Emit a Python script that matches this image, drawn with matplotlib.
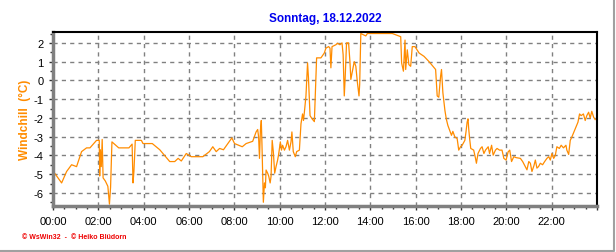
import matplotlib
matplotlib.use("Agg")
import matplotlib.pyplot as plt
from matplotlib.lines import Line2D
from matplotlib.ticker import MultipleLocator, FuncFormatter

# Windchill values (hour of day, °C)
hours = [
    0.00, 0.38, 0.60, 0.82, 1.04, 1.26, 1.48, 1.63, 1.92, 2.04,
    2.06, 2.09, 2.13, 2.17, 2.21, 2.31, 2.42, 2.49, 2.54, 2.60,
    2.90, 3.35, 3.49, 3.53, 3.57, 3.63, 3.90, 3.97, 4.38, 4.71,
    5.15, 5.37, 5.52, 5.66, 5.88, 6.10, 6.61, 6.90, 7.05, 7.20,
    7.35, 7.52, 7.89, 8.01, 8.35, 8.52, 8.81, 8.96, 9.03, 9.07,
    9.11, 9.15, 9.19, 9.22, 9.28, 9.33, 9.37, 9.40, 9.47, 9.52,
    9.58, 9.62, 9.67, 9.72, 9.78, 9.84, 9.91, 9.96, 10.03, 10.08,
    10.13, 10.21, 10.28, 10.35, 10.43, 10.50, 10.54, 10.60, 10.69, 10.75,
    10.87, 10.94, 11.01, 11.05, 11.09, 11.16, 11.23, 11.27, 11.34, 11.43,
    11.53, 11.57, 11.63, 11.82, 11.97, 12.04, 12.16, 12.22, 12.26, 12.31,
    12.48, 12.55, 12.66, 12.75, 12.80, 12.85, 12.89, 12.95, 13.04, 13.10,
    13.14, 13.21, 13.29, 13.36, 13.43, 13.50, 13.53, 13.58, 13.80, 13.87,
    14.97, 15.34, 15.38, 15.46, 15.53, 15.56, 15.63, 15.70, 15.78, 15.85,
    15.97, 16.15, 16.37, 16.59, 16.76, 16.88, 16.95, 17.02, 17.10, 17.14,
    17.20, 17.29, 17.35, 17.42, 17.50, 17.58, 17.64, 17.73, 17.83, 17.90,
    17.98, 18.05, 18.17, 18.22, 18.27, 18.31, 18.34, 18.38, 18.43, 18.56,
    18.64, 18.68, 18.75, 18.86, 18.93, 19.01, 19.08, 19.20, 19.26, 19.35,
    19.42, 19.52, 19.59, 19.70, 19.81, 19.89, 19.99, 20.08, 20.15, 20.23,
    20.33, 20.43, 20.62, 20.72, 20.84, 20.91, 20.99, 21.06, 21.13, 21.22,
    21.28, 21.35, 21.42, 21.50, 21.60, 21.69, 21.79, 21.87, 21.94, 22.01,
    22.09, 22.16, 22.23, 22.34, 22.42, 22.52, 22.63, 22.67, 22.75, 22.82,
    22.89, 23.04, 23.16, 23.23, 23.30, 23.40, 23.48, 23.55, 23.63, 23.70,
    23.77, 23.85, 23.92,
]
windchill = [
    -4.83, -5.47, -4.86, -4.50, -4.60, -3.80, -3.60, -3.60, -3.20, -3.20,
    -5.10, -3.70, -4.60, -3.15, -5.20, -5.37, -5.65, -6.60, -5.70, -3.28,
    -3.60, -3.60, -3.40, -5.47, -4.86, -3.20, -3.20, -3.37, -3.37, -3.70,
    -4.33, -4.33, -4.16, -4.30, -3.90, -4.07, -4.07, -3.80, -3.54, -3.80,
    -3.63, -3.70, -3.07, -3.37, -3.54, -3.37, -3.25, -2.75, -2.62, -3.00,
    -4.16, -2.67, -2.14, -3.46, -6.50, -5.47, -5.73, -4.78, -4.95, -5.12,
    -5.47, -5.12, -3.20, -3.80, -4.95, -4.60, -4.25, -3.90, -3.28, -3.72,
    -3.46, -3.72, -3.54, -3.20, -3.72, -3.28, -2.75, -3.80, -4.07, -3.80,
    -3.72, -2.32, -1.79, -2.14, -1.70, -0.83, 0.93, 0.14, -1.88, -2.05,
    -2.20, -0.83, 1.20, 1.20, 1.46, 1.72, 1.80, 1.72, 0.67, 1.80,
    1.90, 1.98, 1.90, 2.00, 1.37, -0.83, 0.14, 2.00, 2.00, 1.00,
    0.05, 0.50, 1.00, 0.75, -0.12, -0.83, -0.20, 2.50, 2.37, 2.50,
    2.50, 2.33, 0.93, 0.49, 2.15, 0.58, 1.63, 0.84, 0.75, 1.80,
    1.80, 1.46, 1.28, 1.00, 0.75, 0.58, -0.83, -0.90, 0.23, 0.58,
    -0.65, -1.60, -2.05, -2.40, -2.67, -2.93, -2.72, -3.02, -3.10, -3.72,
    -3.54, -3.46, -3.20, -2.75, -2.23, -2.05, -2.58, -3.10, -3.63, -3.72,
    -4.16, -4.42, -3.90, -3.63, -3.54, -3.90, -3.72, -3.54, -3.90, -3.46,
    -3.99, -3.72, -3.63, -3.72, -3.72, -4.16, -4.25, -3.81, -3.72, -4.33,
    -4.07, -4.12, -4.16, -4.33, -4.60, -4.77, -4.33, -4.42, -4.86, -4.54,
    -4.25, -4.68, -4.60, -4.42, -4.50, -4.33, -4.16, -4.07, -4.25, -3.90,
    -4.16, -4.00, -3.54, -3.63, -3.46, -3.60, -3.46, -3.72, -3.95, -3.20,
    -3.02, -2.58, -2.23, -1.79, -1.88, -1.79, -2.14, -1.88, -1.70, -2.01,
    -1.65, -1.96, -2.09,
]

title = "Sonntag, 18.12.2022"
ylabel = "Windchill  (°C)"
footer = "© WsWin32  -  © Heiko Blüdorn"

plt.rcParams['font.family'] = ['Liberation Sans', 'DejaVu Sans']

fig = plt.figure(figsize=(6.16, 2.53), dpi=100)
ax = fig.add_axes([53 / 616, 1 - 207 / 253, 544 / 616, 174 / 253])

ax.plot(hours, windchill, color='#ff8c00', lw=0.9)

ax.set_xlim(0, 24)
ax.set_ylim(-6.7, 2.58)
ax.xaxis.set_major_locator(MultipleLocator(2))
ax.xaxis.set_minor_locator(MultipleLocator(0.5))
ax.xaxis.set_major_formatter(FuncFormatter(lambda v, p: "%02d:00" % int(round(v)) if v < 24 else ""))
ax.yaxis.set_major_locator(MultipleLocator(1))
ax.yaxis.set_minor_locator(MultipleLocator(0.5))
ax.yaxis.set_major_formatter(FuncFormatter(lambda v, p: "%d" % round(v)))

ax.grid(True, which='major', color='#808080', ls=(0, (3, 3)), lw=1.0)
ax.tick_params(axis='both', which='major', labelsize=8, length=3, width=1, color='#333333', pad=4)
ax.tick_params(axis='both', which='minor', length=2, width=1, color='#333333')

for side in ('left', 'bottom'):
    ax.spines[side].set_color('#808080')
    ax.spines[side].set_linewidth(2.5)
for side in ('top', 'right'):
    ax.spines[side].set_color('black')
    ax.spines[side].set_linewidth(1.5)

fig.text(325 / 616, 1 - 19 / 253, title, color='#0000ee', fontsize=8.5,
         fontweight='bold', ha='center', va='center')
fig.text(25 / 616, 1 - 120 / 253, ylabel, color='#ff8c00', fontsize=8.5,
         fontweight='bold', rotation=90, ha='center', va='center')
fig.text(22 / 616, 1 - 238 / 253, footer, color='#ee0000', fontsize=5,
         fontweight='bold', ha='left', va='center')

# outer frame: right and bottom edges only
fig.lines.append(Line2D([1 - 2 / 616, 1 - 2 / 616, 0], [1, 1 / 253, 1 / 253],
                        transform=fig.transFigure, color='#a0a0a0', lw=1.5))

fig.savefig('out.png', dpi=100)
